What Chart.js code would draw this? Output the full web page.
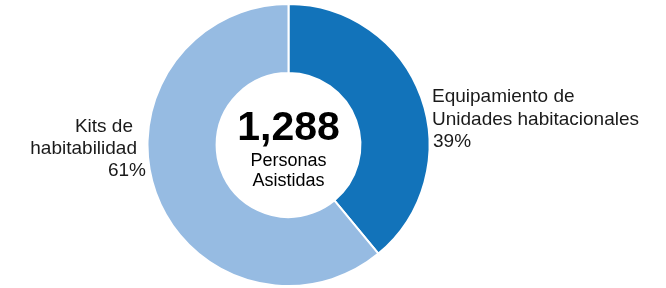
<!DOCTYPE html>
<html>
<head>
<meta charset="utf-8">
<script src="https://cdn.jsdelivr.net/npm/chart.js@4"></script>
<style>
  html, body { margin: 0; padding: 0; background: #fff; }
  #wrap { width: 666px; height: 288px; }
</style>
</head>
<body>
<div id="wrap"><canvas id="donut" width="666" height="288"></canvas></div>
<script>
const categories = ['Equipamiento de Unidades habitacionales', 'Kits de habitabilidad'];
const shares = [39, 61];
const total = '1,288';
const centerLines = ['Personas', 'Asistidas'];
const labelLines = [
  ['Equipamiento de', 'Unidades habitacionales', '39%'],
  ['Kits de', 'habitabilidad', '61%']
];
const colors = ['#1273BA', '#96BBE2'];

// text next to the ring and in the hole
const donutText = {
  id: 'donutText',
  afterDraw(chart) {
    const arc = chart.getDatasetMeta(0).data[0];
    const cx = arc.x, cy = arc.y;
    const ctx = chart.ctx;
    ctx.save();
    ctx.fillStyle = '#000';
    ctx.textBaseline = 'alphabetic';

    ctx.textAlign = 'center';
    ctx.font = 'bold 41px "Liberation Sans", Arial, sans-serif';
    ctx.fillText(total, cx, cy - 5);
    ctx.font = '18px "Liberation Sans", Arial, sans-serif';
    ctx.fillText(centerLines[0], cx, cy + 21);
    ctx.fillText(centerLines[1], cx, cy + 41);

    ctx.font = '19px "Liberation Sans", Arial, sans-serif';
    // right label
    ctx.textAlign = 'left';
    ctx.fillStyle = '#1a1a1a';
    const rx = [cx + 143.5, cx + 143.5, cx + 144.5];
    const ry = [cy - 43, cy - 20.5, cy + 2];
    labelLines[0].forEach((t, i) => ctx.fillText(t, rx[i], ry[i]));
    // left label
    ctx.textAlign = 'right';
    const lx = [cx - 155.5, cx - 151.5, cx - 142.5];
    const ly = [cy - 13, cy + 9, cy + 31];
    labelLines[1].forEach((t, i) => ctx.fillText(t, lx[i], ly[i]));
    ctx.restore();
  }
};

new Chart(document.getElementById('donut'), {
  type: 'doughnut',
  data: {
    labels: categories,
    datasets: [{
      data: shares,
      backgroundColor: colors,
      borderColor: '#fff',
      borderWidth: 2,
      hoverOffset: 0
    }]
  },
  options: {
    responsive: false,
    animation: false,
    cutout: '51%',
    layout: { padding: { top: 3, bottom: 1, left: 0, right: 89 } },
    plugins: {
      legend: { display: false },
      tooltip: { enabled: false }
    }
  },
  plugins: [donutText]
});
</script>
</body>
</html>
